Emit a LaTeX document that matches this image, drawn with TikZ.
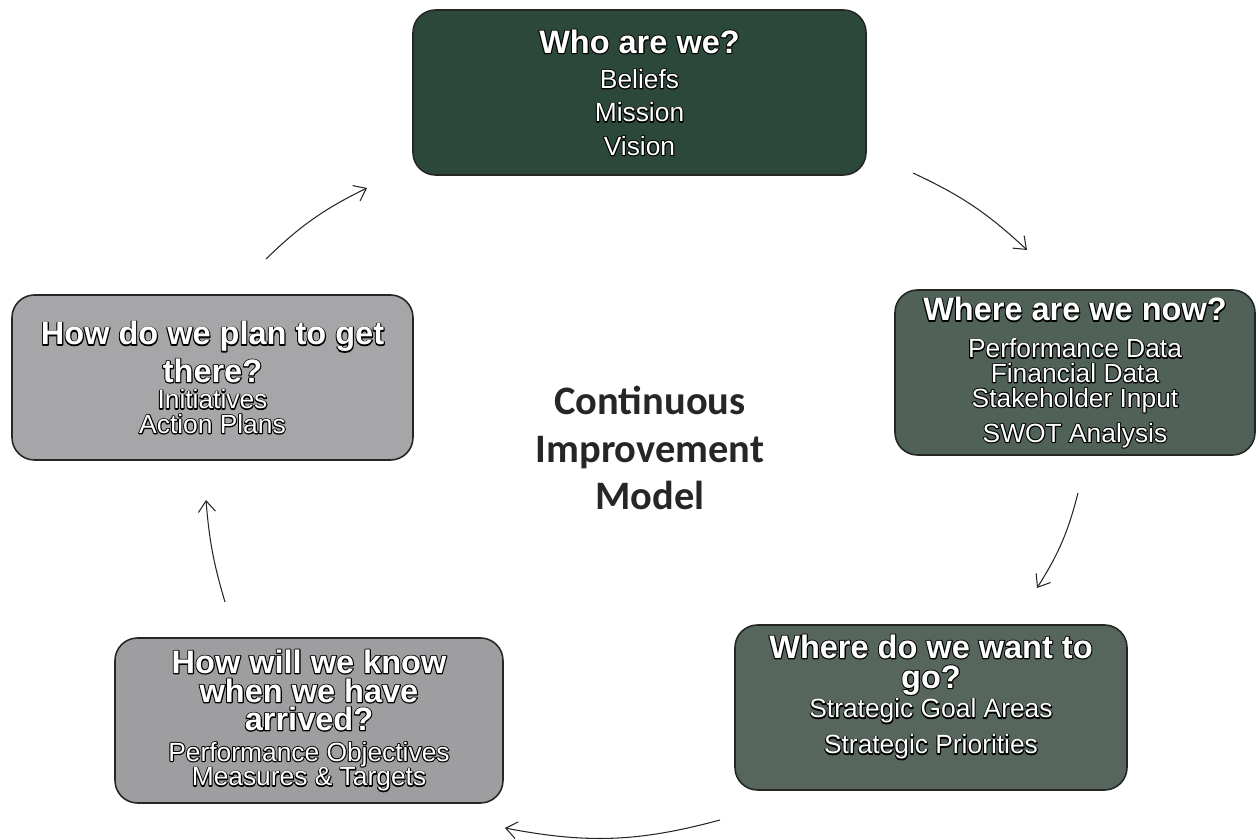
\documentclass[tikz,border=0pt]{standalone}
\usepackage{fontspec}
\setmainfont{Liberation Sans}
\newfontfamily\calibri{Carlito}
\usetikzlibrary{arrows.meta}

\definecolor{whogreen}{RGB}{44,72,58}
\definecolor{nowgreen}{RGB}{80,97,87}
\definecolor{gogreen}{RGB}{86,102,92}
\definecolor{knowgray}{RGB}{158,158,160}
\definecolor{plangray}{RGB}{166,166,168}

\newcommand{\bl}[1]{\rlap{\special{pdf:literal direct 0 0 0 RG 1 Tr 1.2 w 1 j}#1\special{pdf:literal direct 0 Tr}}#1}
\newcommand{\hd}[1]{{\fontsize{18.5}{17}\selectfont\bfseries\bl{#1}}}

\tikzset{
	stage/.style={draw=black!85, line width=0.9pt, rounded corners=0.45cm, minimum height=3.3cm, inner sep=1pt, align=center, text=white, font=\fontsize{15}{15}\selectfont},
	turn/.style={-{Straight Barb[length=2.2mm,width=3.4mm]}, line width=0.6pt, black!85},
}

\begin{document}
\begin{tikzpicture}
	\useasboundingbox (0,0) rectangle (25.16,16.8);

	\node[stage, fill=whogreen, minimum width=9.06cm] (who) at (12.79,14.95) {\hd{Who are we?}\\[5pt] \bl{Beliefs}\\[4pt] \bl{Mission}\\[4pt] \bl{Vision}};
	\node[stage, fill=nowgreen, minimum width=7.2cm] (now) at (21.5,9.35) {\hd{Where are we now?}\\[6pt] \bl{Performance Data}\\[-1pt] \bl{Financial Data}\\[-1pt] \bl{Stakeholder Input}\\[5pt] \bl{SWOT Analysis}};
	\node[stage, fill=gogreen, minimum width=7.84cm] (go) at (18.62,2.65) {\hd{Where do we want to}\\[2pt] \hd{go?}\\[2pt] \bl{Strategic Goal Areas}\\[5.5pt] \bl{Strategic Priorities}\\[0pt] \mbox{}};
	\node[stage, fill=knowgray, minimum width=7.76cm] (know) at (6.18,2.39) {\hd{How will we know}\\[1.5pt] \hd{when we have}\\[1pt] \hd{arrived?}\\[2.5pt] \bl{Performance Objectives}\\[-1pt] \bl{Measures \& Targets}};
	\node[stage, fill=plangray, minimum width=8.02cm] (plan) at (4.25,9.25) {\hd{How do we plan to get}\\[3pt] \hd{there?}\\[0pt] \bl{Initiatives}\\[-1pt] \bl{Action Plans}};

	\node[align=center, text=black!85, font=\calibri\bfseries\fontsize{23}{27}\selectfont] (model) at (13.0,7.84) {Continuous\\Improvement\\Model};

	\coordinate (whoOut) at (18.26,13.34);
	\coordinate (nowIn) at (20.54,11.8);
	\coordinate (nowOut) at (21.56,6.94);
	\coordinate (goIn) at (20.74,5.04);
	\coordinate (goOut) at (14.4,0.4);
	\coordinate (knowIn) at (10.1,0.24);
	\coordinate (knowOut) at (4.5,4.76);
	\coordinate (planIn) at (4.12,6.8);
	\coordinate (planOut) at (5.32,11.62);
	\coordinate (whoIn) at (7.34,13.04);

	\draw[turn] (whoOut) to[bend left=9] (nowIn);
	\draw[turn] (nowOut) to[bend left=9] (goIn);
	\draw[turn] (goOut) to[bend left=13] (knowIn);
	\draw[turn] (knowOut) to[bend left=6] (planIn);
	\draw[turn] (planOut) to[bend left=9] (whoIn);
\end{tikzpicture}
\end{document}
